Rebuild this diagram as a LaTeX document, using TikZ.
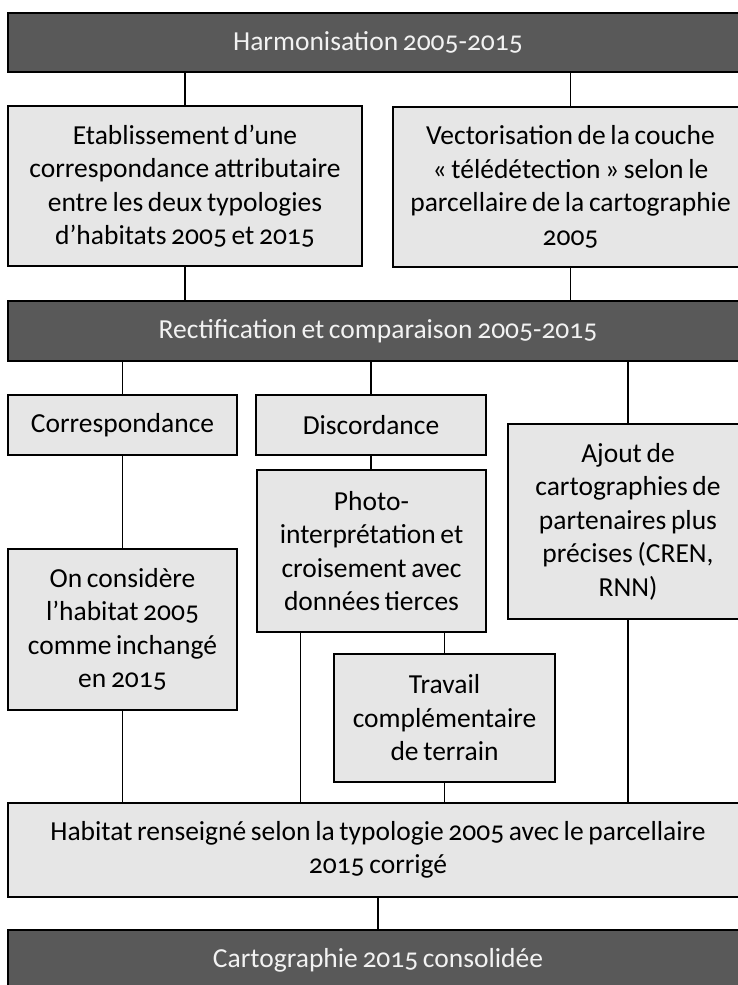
\documentclass[tikz,border=0pt]{standalone}
\usepackage{fontspec}
\setmainfont{Carlito}[Numbers=OldStyle, WordSpace=0.75]
\usepackage{xcolor}
\usetikzlibrary{positioning, calc}
\definecolor{barfill}{HTML}{595959}
\definecolor{boxfill}{HTML}{E6E6E6}

\begin{document}
\begin{tikzpicture}[x=1pt, y=-1pt, line width=1.2pt,
  every node/.style={font=\fontsize{27.5}{33.5}\selectfont, align=center, inner sep=0pt},
  bar/.style={draw=black, fill=barfill, text=white!95!black, minimum width=740pt, minimum height=#1},
  box/.style 2 args={draw=black, fill=boxfill, minimum width=#1, minimum height=#2}]
  \useasboundingbox (0,0) rectangle (738,985);
  \clip (0,0) rectangle (738,985);

  % stage 1
  \node[bar=59pt] (harmo) at (378,42.5) {Harmonisation 2005-2015};
  \node[box={354pt}{160pt}] (etab) at (185,186) {Etablissement d’une\\correspondance attributaire\\entre les deux typologies\\d’habitats 2005 et 2015};
  \node[box={355pt}{160pt}] (vect) at (570.5,187) {Vectorisation de la couche\\« télédétection » selon le\\parcellaire de la cartographie\\2005};

  % stage 2
  \node[bar=60pt] (rect) at (378,331) {Rectification et comparaison 2005-2015};
  \node[box={229pt}{60pt}] (corr) at (122.5,425) {Correspondance};
  \node[box={230pt}{60pt}] (disc) at (371,425) {Discordance};
  \node[box={240pt}{195pt}, line width=1.8pt] (ajout) at (628,521.5) {Ajout de\\cartographies de\\partenaires plus\\précises (CREN,\\RNN)};
  \node[box={229pt}{161pt}] (incha) at (122.5,629.5) {On considère\\l’habitat 2005\\comme inchangé\\en 2015};
  \node[box={229pt}{162pt}] (photo) at (371.5,551) {Photo-\\interprétation et\\croisement avec\\données tierces};
  \node[box={221pt}{128pt}] (terrain) at (444.5,718) {Travail\\complémentaire\\de terrain};

  % result
  \node[box={740pt}{94pt}] (habitat) at (378,850) {Habitat renseigné selon la typologie 2005 avec le parcellaire\\2015 corrigé};
  \node[bar=60pt] (carto) at (378,960) {Cartographie 2015 consolidée};

  \coordinate (pl) at ([xshift=44pt]photo.south west);

  \draw (harmo.south -| etab.north) -- (etab.north);
  \draw (harmo.south -| vect.north) -- (vect.north);
  \draw (etab.south) -- (etab.south |- rect.north);
  \draw (vect.south) -- (vect.south |- rect.north);
  \draw (rect.south -| corr.north) -- (corr.north);
  \draw (rect.south -| disc.north) -- (disc.north);
  \draw (rect.south -| ajout.north) -- (ajout.north);
  \draw (corr.south) -- (incha.north);
  \draw (disc.south) -- (disc.south |- photo.north);
  \draw (photo.south -| terrain.north) -- (terrain.north);
  \draw (pl) -- (pl |- habitat.north);
  \draw (incha.south) -- (incha.south |- habitat.north);
  \draw (terrain.south) -- (terrain.south |- habitat.north);
  \draw (ajout.south) -- (ajout.south |- habitat.north);
  \draw (habitat.south) -- (carto.north);
\end{tikzpicture}
\end{document}
